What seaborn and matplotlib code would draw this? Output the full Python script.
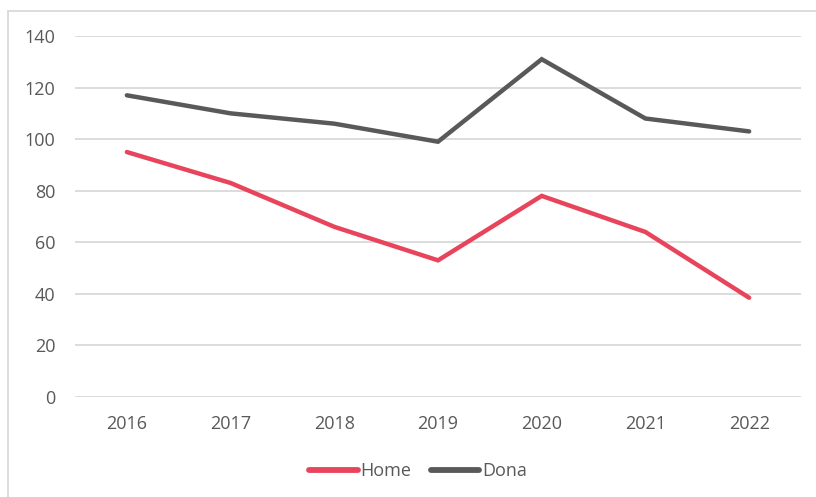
import matplotlib
matplotlib.use("Agg")
import matplotlib.pyplot as plt
import seaborn as sns
import pandas as pd
from matplotlib.patches import Rectangle

years = ["2016", "2017", "2018", "2019", "2020", "2021", "2022"]
home = [95, 83, 66, 53, 78, 64, 38.5]
dona = [117, 110, 106, 99, 131, 108, 103]
series_names = ["Home", "Dona"]
colors = ["#E8455C", "#595959"]
yticks = [0, 20, 40, 60, 80, 100, 120, 140]

sns.set_theme(style="white")
plt.rcParams["font.family"] = ["Open Sans", "DejaVu Sans"]

df = pd.DataFrame({
    "Any": years * 2,
    "Valor": home + dona,
    "Sèrie": [series_names[0]] * len(years) + [series_names[1]] * len(years),
})

W, H = 816, 497
fig = plt.figure(figsize=(W / 100, H / 100), dpi=100)
ax = fig.add_axes([75 / W, 1 - 397 / H, (801 - 75) / W, (397 - 36) / H])

sns.lineplot(data=df, x="Any", y="Valor", hue="Sèrie", palette=colors,
             linewidth=3.2, ax=ax, sort=False, legend=True)
for ln in ax.get_lines():
    ln.set_solid_capstyle("round")
    ln.set_solid_joinstyle("miter")

ax.set_xlim(-0.5, len(years) - 0.5)
ax.set_ylim(0, 140)
ax.set_yticks(yticks)
ax.set_xlabel("")
ax.set_ylabel("")
for s in ax.spines.values():
    s.set_visible(False)
ax.yaxis.grid(True, color="#D9D9D9", linewidth=1.3)
ax.set_axisbelow(True)
ax.tick_params(axis="both", length=0, labelsize=13, labelcolor="#595959")
ax.tick_params(axis="y", pad=14)
ax.tick_params(axis="x", pad=13)

handles, labels = ax.get_legend_handles_labels()
ax.legend_.remove()
for h in handles:
    h.set_linewidth(4.2)
    h.set_solid_capstyle("round")
leg = fig.legend(handles, labels, loc="center", ncol=2,
                 bbox_to_anchor=(418 / W, 1 - 471 / H), frameon=False,
                 fontsize=13, handlelength=2.7, handletextpad=0.15,
                 columnspacing=1.05, labelcolor="#595959")

fig.patches.append(Rectangle((8 / W, -0.05), 1.1, 1 - 11 / H + 0.05,
                             transform=fig.transFigure, fill=False,
                             edgecolor="#D9D9D9", linewidth=1.3))

fig.savefig("out.png", dpi=100)
